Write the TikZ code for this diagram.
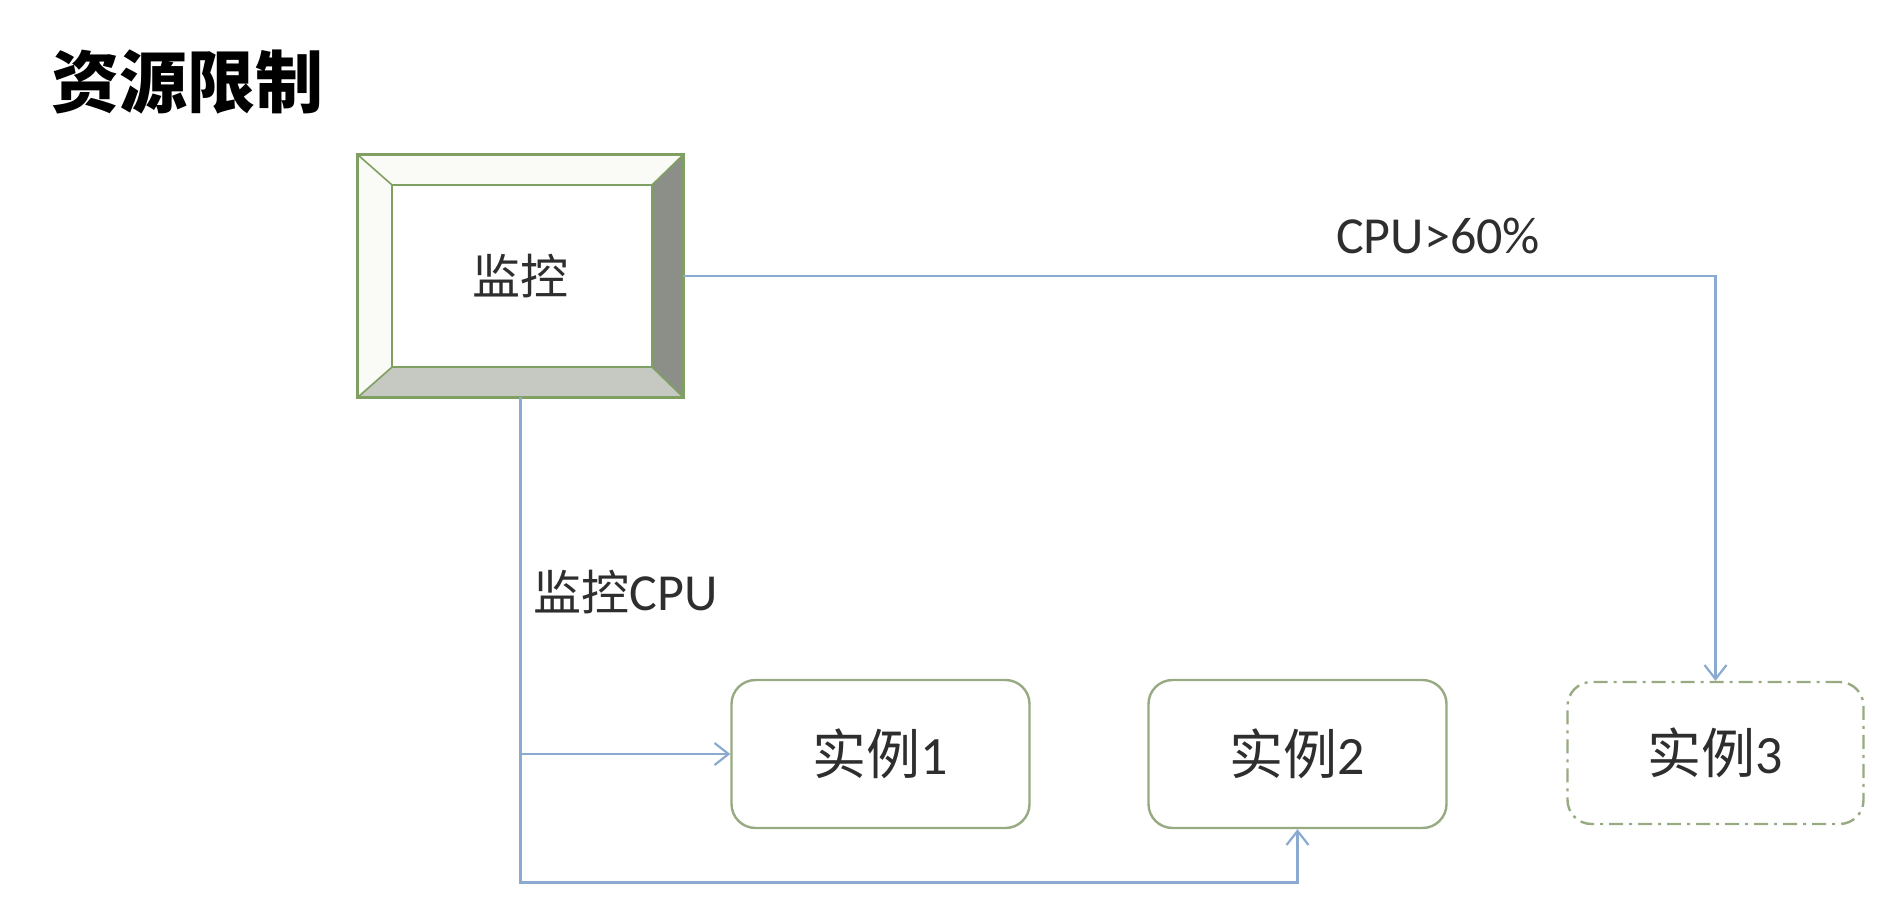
\documentclass[tikz,border=0pt]{standalone}
\usepackage{fontspec}
\setmainfont{Carlito}
\newfontfamily\cjk{Noto Sans CJK SC}
\usetikzlibrary{arrows.meta,calc}

\definecolor{wire}{HTML}{8AAAD0}
\definecolor{frame}{HTML}{97AA82}
\definecolor{bevelline}{HTML}{7FA062}
\definecolor{bevellight}{HTML}{FAFBF6}
\definecolor{beveldark}{HTML}{8C8E88}
\definecolor{bevelmid}{HTML}{C6C8C2}
\definecolor{ink}{HTML}{2E2E2E}

\tikzset{
  conn/.style={draw=wire, line width=1.3pt, -{Straight Barb[length=7pt,width=11pt,line width=1.1pt]}},
  monbox/.style={minimum width=162.5pt, minimum height=121pt, inner sep=0pt,
    font=\cjk\fontsize{24}{28}\selectfont, text=ink},
  instbox/.style={draw=frame, line width=1.2pt, rounded corners=12pt,
    minimum width=149pt, minimum height=74pt, inner sep=0pt, text=ink,
    font=\fontsize{27}{32}\selectfont},
  sparebox/.style={instbox, dash pattern=on 7pt off 3pt on 1.5pt off 3pt},
  lbl/.style={inner sep=0pt, text=ink, font=\fontsize{26}{31}\selectfont},
  titletext/.style={inner sep=0pt, text=black, font=\cjk\bfseries\fontsize{34}{40}\selectfont}
}

\begin{document}
\begin{tikzpicture}[x=0.5pt, y=-0.5pt]
  \useasboundingbox[fill=white] (0,0) rectangle (1898,914);

  % heading
  \node[titletext] (title) at (187,82) {资源限制};

  % monitor: bevelled frame
  \node[monbox] (mon) at (520.5,276) {监控};
  \coordinate (iNW) at ($(mon.north west)+(17pt,-15pt)$);
  \coordinate (iNE) at ($(mon.north east)+(-15.5pt,-15pt)$);
  \coordinate (iSE) at ($(mon.south east)+(-15.5pt,15pt)$);
  \coordinate (iSW) at ($(mon.south west)+(17pt,15pt)$);
  \fill[bevellight] (mon.north west) -- (mon.north east) -- (iNE) -- (iNW) -- cycle;
  \fill[bevellight] (mon.north west) -- (iNW) -- (iSW) -- (mon.south west) -- cycle;
  \fill[beveldark] (mon.north east) -- (mon.south east) -- (iSE) -- (iNE) -- cycle;
  \fill[bevelmid] (mon.south west) -- (iSW) -- (iSE) -- (mon.south east) -- cycle;
  \draw[bevelline, line width=1.3pt] (mon.north west) rectangle (mon.south east);
  \draw[bevelline, line width=1pt] (iNW) rectangle (iSE);
  \draw[bevelline, line width=0.8pt]
    (mon.north west) -- (iNW) (mon.north east) -- (iNE)
    (mon.south east) -- (iSE) (mon.south west) -- (iSW);

  % instances
  \node[instbox] (inst1) at (880.5,754) {{\cjk 实例}1};
  \node[instbox] (inst2) at (1297.5,754) {{\cjk 实例}2};
  \node[sparebox, minimum width=148pt, minimum height=71pt] (inst3) at (1715.5,753) {{\cjk 实例}3};

  % labels
  \node[lbl] (cpuhigh) at (1438,236) {CPU>60\%};
  \node[lbl, anchor=west] (watch) at (533,592) {{\cjk\fontsize{24}{29}\selectfont 监控}CPU};

  % connectors
  \draw[conn] (mon.east) -| (inst3.north);
  \coordinate (bus) at ($(inst2.south)+(0,-26.5pt)$);
  \draw[conn] (mon.south) |- (bus) -- (inst2.south);
  \coordinate (tap) at (mon.south |- inst1.west);
  \draw[conn] (tap) -- (inst1.west);
\end{tikzpicture}
\end{document}
